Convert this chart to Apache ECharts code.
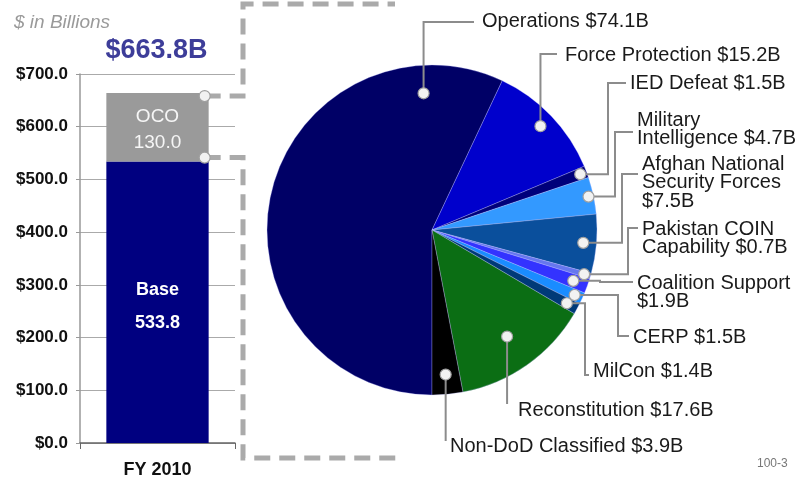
<!DOCTYPE html>
<html>
<head>
<meta charset="utf-8">
<script src="https://cdn.jsdelivr.net/npm/echarts@6/dist/echarts.min.js"></script>
<style>
  html, body { margin: 0; padding: 0; background: #fff; }
  #main { width: 801px; height: 487px; }
</style>
</head>
<body>
<div id="main"></div>
<script>
// bar data (FY 2010, $ in billions)
var years = ['FY 2010'];
var baseVals = [533.8];
var ocoVals = [130.0];
var yTicks = [0, 100, 200, 300, 400, 500, 600, 700];

// OCO breakdown
var pieNames = ['Operations', 'Force Protection', 'IED Defeat', 'Military\nIntelligence',
    'Afghan National\nSecurity Forces', 'Pakistan COIN\nCapability', 'Coalition Support',
    'CERP', 'MilCon', 'Reconstitution', 'Non-DoD Classified'];
var pieVals = [74.1, 15.2, 1.5, 4.7, 7.5, 0.7, 1.9, 1.5, 1.4, 17.6, 3.9];
var pieColors = ['#000066', '#0000cc', '#00007a', '#3399ff', '#0a4f9c', '#6677ee',
    '#3333ff', '#1a8cff', '#003a78', '#0b6e14', '#000000'];

// where each label sits and how its leader runs (t = position along slice, rf = radius fraction)
var pieLayout = [
    {t: 0.86, rf: 0.83, lx: 482, ly: 21, kind: 'up', lineY: 22, sep: ' '},
    {t: 0.5, rf: 0.91, lx: 565, ly: 55, kind: 'up', lineY: 54, sep: ' '},
    {t: 0.5, rf: 0.96, lx: 630, ly: 83, kind: 'elbow', bendX: 608, lineY: 83, sep: ' '},
    {t: 0.5, rf: 0.97, lx: 637, ly: 120, kind: 'elbow', bendX: 615, lineY: 132, sep: ' '},
    {t: 0.5, rf: 0.92, lx: 642, ly: 164, kind: 'elbow', bendX: 622, lineY: 174, sep: '\n'},
    {t: 0.5, rf: 0.96, lx: 642, ly: 229, kind: 'elbow', bendX: 628, lineY: 228, sep: ' '},
    {t: 0.5, rf: 0.91, lx: 637, ly: 283, kind: 'elbow', bendX: 600, lineY: 282, sep: '\n'},
    {t: 0.5, rf: 0.95, lx: 633, ly: 337, kind: 'elbow', bendX: 618, lineY: 336, sep: ' '},
    {t: 0.5, rf: 0.93, lx: 593, ly: 371, kind: 'elbow', bendX: 585, lineY: 375, sep: ' '},
    {t: 0.5, rf: 0.79, lx: 518, ly: 410, kind: 'down', lineY: 404, sep: ' '},
    {t: 0.5, rf: 0.88, lx: 450, ly: 446, kind: 'down', lineY: 441, sep: ' '}
];

var FONT = '"Liberation Sans", Arial, Helvetica, sans-serif';
var LH = 18.5;

var pieData = [];
for (var i = 0; i < pieNames.length; i++) {
    pieData.push({name: pieNames[i], value: pieVals[i], itemStyle: {color: pieColors[i]}});
}

var total = baseVals[0] + ocoVals[0];

var myChart = echarts.init(document.getElementById('main'));

var option = {
    animation: false,
    textStyle: {fontFamily: FONT},
    title: {
        text: '$ in Billions',
        left: 9, top: 8,
        textStyle: {fontSize: 19, fontStyle: 'italic', fontWeight: 'normal', color: '#9a9a9a', fontFamily: FONT}
    },
    grid: {left: 80, right: 566, top: 74, bottom: 44},
    xAxis: {
        type: 'category',
        data: years,
        axisLine: {lineStyle: {color: '#666', width: 1.5}},
        axisTick: {show: true, length: 6, lineStyle: {color: '#666'}},
        axisLabel: {fontSize: 18, fontWeight: 'bold', color: '#111', margin: 18, fontFamily: FONT}
    },
    yAxis: {
        type: 'value',
        min: yTicks[0],
        max: yTicks[yTicks.length - 1],
        interval: 100,
        axisLine: {show: true, lineStyle: {color: '#999', width: 1.5}},
        axisTick: {show: true, length: 4, lineStyle: {color: '#999'}},
        splitLine: {lineStyle: {color: '#aaa', width: 1}},
        axisLabel: {
            fontSize: 17, fontWeight: 'bold', color: '#111', margin: 12, fontFamily: FONT,
            formatter: function (v) { return '$' + v.toFixed(1); }
        }
    },
    series: [
        {
            name: 'Base',
            type: 'bar',
            stack: 'total',
            barWidth: '66%',
            data: baseVals,
            itemStyle: {color: '#000080'},
            label: {
                show: true,
                position: 'inside',
                offset: [0, 4],
                formatter: function (p) { return '{a|Base}\n{a|' + p.value.toFixed(1) + '}'; },
                rich: {a: {fontSize: 18, fontWeight: 'bold', color: '#fff', lineHeight: 33, fontFamily: FONT}}
            }
        },
        {
            name: 'OCO',
            type: 'bar',
            stack: 'total',
            barWidth: '66%',
            data: ocoVals,
            itemStyle: {color: '#9a9a9a'},
            label: {
                show: true,
                position: 'inside',
                offset: [0, 2],
                formatter: function (p) { return '{a|OCO}\n{a|' + p.value.toFixed(1) + '}'; },
                rich: {a: {fontSize: 19, color: '#f6f6f6', lineHeight: 26, fontFamily: FONT}}
            }
        },
        {
            name: 'OCO breakdown',
            type: 'pie',
            center: [432, 230],
            radius: 165,
            startAngle: -90,
            clockwise: true,
            avoidLabelOverlap: false,
            data: pieData,
            itemStyle: {borderColor: 'rgba(190,190,255,0.45)', borderWidth: 0.7},
            emphasis: {disabled: true},
            label: {
                show: true,
                position: 'outside',
                fontSize: 20,
                lineHeight: LH,
                color: '#1a1a1a',
                fontFamily: FONT,
                formatter: function (p) {
                    return p.name + pieLayout[p.dataIndex].sep + '$' + p.value.toFixed(1) + 'B';
                }
            },
            labelLine: {show: false},
            labelLayout: function (params) {
                var L = pieLayout[params.dataIndex];
                return {x: L.lx, y: L.ly - LH / 2, align: 'left', verticalAlign: 'top'};
            }
        }
    ]
};

myChart.setOption(option);

// connectors, leaders and dots
var graphics = [];
var DASH = {stroke: '#aaaaaa', lineWidth: 5, lineDash: [16, 9], fill: null};
var dotStyle = {fill: '#f2f2f2', stroke: '#a0a0a0', lineWidth: 1.2};

var barLayout = myChart.getModel().getSeriesByIndex(1).getData().getItemLayout(0);
var barRight = barLayout.x + barLayout.width;
var barCx = barLayout.x + barLayout.width / 2;
var yTop = myChart.convertToPixel({yAxisIndex: 0}, total);
var yBase = myChart.convertToPixel({yAxisIndex: 0}, baseVals[0]);

graphics.push({type: 'text', left: barCx - 52, top: yTop - 56,
    style: {text: '$' + total.toFixed(1) + 'B', font: 'bold 27px ' + FONT, fill: '#3d3d99'}});

graphics.push({type: 'polyline', z: 5, shape: {points: [[barRight - 4, yTop + 3], [243, yTop + 3], [243, 4], [395, 4]]}, style: DASH});
graphics.push({type: 'polyline', z: 5, shape: {points: [[barRight - 4, yBase - 4], [243, yBase - 4], [243, 458], [400, 458]]}, style: DASH});
graphics.push({type: 'circle', z: 6, shape: {cx: barRight - 4, cy: yTop + 3, r: 5.5}, style: dotStyle});
graphics.push({type: 'circle', z: 6, shape: {cx: barRight - 4, cy: yBase - 4, r: 5.5}, style: dotStyle});

var pieSeriesData = myChart.getModel().getSeriesByIndex(2).getData();
for (var k = 0; k < pieVals.length; k++) {
    var lay = pieSeriesData.getItemLayout(k);
    var L = pieLayout[k];
    var ang = lay.startAngle + (lay.endAngle - lay.startAngle) * L.t;
    var dx = lay.cx + Math.cos(ang) * lay.r * L.rf;
    var dy = lay.cy + Math.sin(ang) * lay.r * L.rf;
    var pts;
    if (L.kind == 'up') {
        pts = [[dx, dy], [dx, L.lineY], [L.lx - 8, L.lineY]];
    } else if (L.kind == 'elbow') {
        pts = [[dx, dy], [L.bendX, dy], [L.bendX, L.lineY], [L.lx - 4, L.lineY]];
    } else {
        pts = [[dx, dy], [dx, L.lineY]];
    }
    graphics.push({type: 'polyline', z: 5, shape: {points: pts}, style: {stroke: '#8c8c8c', lineWidth: 2, fill: null}});
    graphics.push({type: 'circle', z: 6, shape: {cx: dx, cy: dy, r: 5.5}, style: dotStyle});
}

graphics.push({type: 'text', left: 757, top: 458, style: {text: '100-3', font: '12px ' + FONT, fill: '#777'}});

myChart.setOption({graphic: graphics});
</script>
</body>
</html>
